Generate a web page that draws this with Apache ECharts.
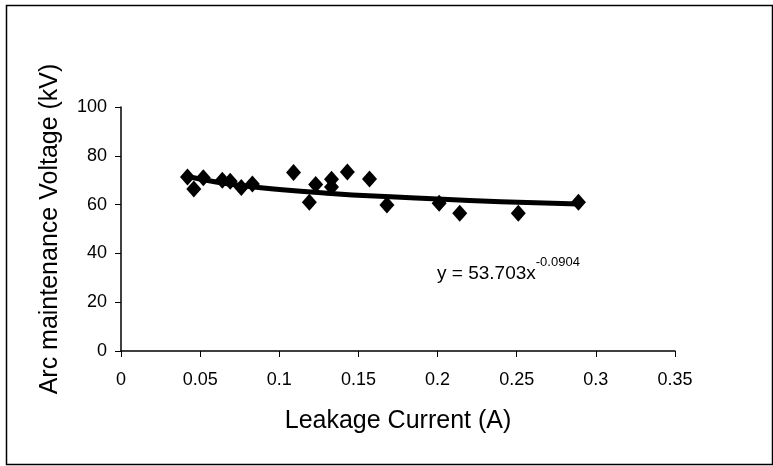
<!DOCTYPE html>
<html>
<head>
<meta charset="utf-8">
<script src="https://cdn.jsdelivr.net/npm/echarts@6/dist/echarts.min.js"></script>
<style>
  html, body { margin: 0; padding: 0; background: #fff; }
  #chart { width: 773px; height: 466px; }
</style>
</head>
<body>
<div id="chart"></div>
<script>
// leakage current (A) and arc maintenance voltage (kV)
const current = [0.042, 0.046, 0.052, 0.064, 0.069, 0.076, 0.083, 0.109, 0.119, 0.123,
  0.133, 0.133, 0.143, 0.157, 0.168, 0.201, 0.214, 0.251, 0.289];
const voltage = [71.3, 66.4, 71.0, 70.0, 69.6, 67.0, 68.4, 73.2, 61.0, 68.2,
  70.4, 67.2, 73.4, 70.5, 59.8, 60.6, 56.5, 56.5, 61.0];

// power trend line
const trendX = [0.042, 0.06, 0.08, 0.1, 0.13, 0.16, 0.2, 0.24, 0.289];
const trendY = [71.5, 69.3, 67.5, 66.2, 64.7, 63.5, 62.3, 61.2, 60.2];

const xTicks = [0, 0.05, 0.1, 0.15, 0.2, 0.25, 0.3, 0.35];
const yTicks = [0, 20, 40, 60, 80, 100];

const chart = echarts.init(document.getElementById('chart'));

const axisText = { color: '#000', fontSize: 18, fontFamily: 'Liberation Sans' };
const titleText = { color: '#000', fontSize: 25, fontFamily: 'Liberation Sans' };

chart.setOption({
  animation: false,
  grid: { left: 121, right: 98, top: 107, bottom: 115 },
  xAxis: {
    type: 'value',
    min: xTicks[0],
    max: xTicks[xTicks.length - 1],
    interval: 0.05,
    name: 'Leakage Current (A)',
    nameLocation: 'middle',
    nameGap: 58,
    nameTextStyle: titleText,
    axisLine: { show: true, lineStyle: { color: '#000', width: 1.5 } },
    axisTick: { show: true, inside: false, length: 6, lineStyle: { color: '#000' } },
    axisLabel: Object.assign({ margin: 20 }, axisText),
    splitLine: { show: false }
  },
  yAxis: {
    type: 'value',
    min: yTicks[0],
    max: yTicks[yTicks.length - 1],
    interval: 20,
    name: 'Arc maintenance Voltage (kV)',
    nameLocation: 'middle',
    nameGap: 58,
    nameTextStyle: titleText,
    axisLine: { show: true, lineStyle: { color: '#000', width: 1.5 } },
    axisTick: { show: true, inside: false, length: 6, lineStyle: { color: '#000' } },
    axisLabel: Object.assign({ margin: 14 }, axisText),
    splitLine: { show: false }
  },
  graphic: [
    {
      type: 'rect',
      left: 4, top: 3,
      shape: { width: 766, height: 459 },
      style: { fill: 'none', stroke: '#000', lineWidth: 1.5 },
      silent: true
    },
    {
      type: 'text',
      left: 437, top: 256,
      style: {
        text: '{b|y = 53.703x}{s|-0.0904}',
        rich: {
          b: { fontSize: 19, fontFamily: 'Liberation Sans', fill: '#000', verticalAlign: 'bottom', padding: [8, 0, 0, 0] },
          s: { fontSize: 13, fontFamily: 'Liberation Sans', fill: '#000', verticalAlign: 'top', padding: [0, 0, 10, 0] }
        }
      }
    }
  ],
  series: [
    {
      name: 'trend',
      type: 'line',
      data: trendX.map((x, i) => [x, trendY[i]]),
      smooth: true,
      symbol: 'none',
      lineStyle: { color: '#000', width: 5 },
      z: 2
    },
    {
      name: 'data',
      type: 'scatter',
      data: current.map((x, i) => [x, voltage[i]]),
      symbol: 'diamond',
      symbolSize: [15, 17],
      itemStyle: { color: '#000', opacity: 1 },
      z: 3
    }
  ]
});
</script>
</body>
</html>
